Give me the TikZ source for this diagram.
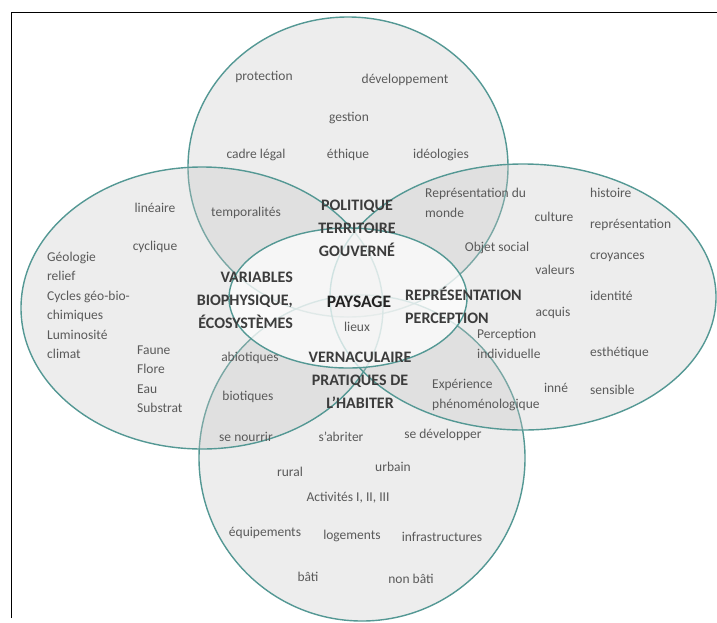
\documentclass[tikz,border=0pt]{standalone}
\usepackage{fontspec}
\setmainfont{Carlito}
\definecolor{vteal}{RGB}{84,152,148}
\definecolor{txtgray}{RGB}{90,90,90}
\definecolor{headgray}{RGB}{60,60,60}
\definecolor{paygray}{RGB}{35,35,35}
\tikzset{
  lbl/.style={font=\fontsize{13.5}{19.5}\selectfont, text=txtgray, inner sep=0pt},
  head/.style={font=\fontsize{16}{23}\selectfont\bfseries, text=headgray, inner sep=0pt},
  venn/.style={draw=vteal, line width=1.4pt, fill=black!22, fill opacity=0.33},
  core/.style={draw=vteal, line width=1.4pt, fill=white, fill opacity=0.72},
  frame/.style={draw=black, line width=1pt}
}
\begin{document}
\begin{tikzpicture}[x=1pt,y=-1pt]
\useasboundingbox (0,0) rectangle (717,622);
% frame
\coordinate (fa) at (11,618);
\coordinate (fb) at (11,12);
\coordinate (fc) at (717,12);
\draw[frame] (fa) -- (fb) -- (fc);
% ellipses
\path[venn] (348,167) ellipse [x radius=160, y radius=150];
\path[venn] (362,458) ellipse [x radius=163, y radius=163];
\path[venn] (202,308) ellipse [x radius=181, y radius=141];
\path[venn] (523,297) ellipse [x radius=193, y radius=133];
\path[core] (348,298) ellipse [x radius=119, y radius=70];
% top circle
\node[lbl] (t1) at (264,77) {protection};
\node[lbl] (t2) at (405,80) {développement};
\node[lbl] (t3) at (349,118) {gestion};
\node[lbl] (t4) at (256,155) {cadre légal};
\node[lbl] (t5) at (348,155) {éthique};
\node[lbl] (t6) at (441,155) {idéologies};
\node[head, align=center] (h1) at (357,228) {POLITIQUE\\TERRITOIRE\\GOUVERNÉ};
% left ellipse
\node[lbl] (l1) at (155,208) {linéaire};
\node[lbl] (l2) at (246,213) {temporalités};
\node[lbl] (l3) at (155,247) {cyclique};
\node[lbl, align=left, anchor=west] (l4) at (47,305.5) {Géologie\\relief\\Cycles géo-bio-\\chimiques\\Luminosité\\climat};
\node[lbl, align=left, anchor=west] (l5) at (137,379) {Faune\\Flore\\Eau\\Substrat};
\node[lbl] (l6) at (250,358) {abiotiques};
\node[lbl] (l7) at (248,397) {biotiques};
\node[lbl] (l8) at (246,437) {se nourrir};
\node[head, align=right, anchor=east] (h2) at (293,300) {VARIABLES\\BIOPHYSIQUE,\\ÉCOSYSTÈMES};
% right ellipse
\node[lbl, align=left, anchor=west] (r1) at (425,203) {Représentation du\\monde};
\node[lbl] (r2) at (554,217) {culture};
\node[lbl, anchor=west] (r3) at (590,193) {histoire};
\node[lbl, anchor=west] (r4) at (590,225) {représentation};
\node[lbl, anchor=west] (r5) at (590,257) {croyances};
\node[lbl, anchor=west] (r6) at (590,296) {identité};
\node[lbl, anchor=west] (r7) at (590,353) {esthétique};
\node[lbl, anchor=west] (r8) at (590,390) {sensible};
\node[lbl] (r9) at (497,248) {Objet social};
\node[lbl] (r10) at (555,270) {valeurs};
\node[lbl] (r11) at (553,313) {acquis};
\node[lbl, align=left, anchor=west] (r12) at (477,344) {Perception\\individuelle};
\node[lbl, align=left, anchor=west] (r13) at (432,395) {Expérience\\phénoménologique};
\node[lbl] (r14) at (556,388) {inné};
\node[head, align=left, anchor=west] (h3) at (405,305.5) {REPRÉSENTATION\\PERCEPTION};
% bottom circle
\node[head, align=center] (h4) at (360,380) {VERNACULAIRE\\PRATIQUES DE\\L’HABITER};
\node[lbl] (b1) at (341,437) {s’abriter};
\node[lbl] (b2) at (443,435) {se développer};
\node[lbl] (b3) at (290,472) {rural};
\node[lbl] (b4) at (393,467) {urbain};
\node[lbl] (b5) at (348,498) {Activités I, II, III};
\node[lbl] (b6) at (265,533) {équipements};
\node[lbl] (b7) at (352,536) {logements};
\node[lbl] (b8) at (442,537) {infrastructures};
\node[lbl] (b9) at (308,577) {bâti};
\node[lbl] (b10) at (411,579) {non bâti};
% centre
\node[head, font=\fontsize{17.5}{21}\selectfont\bfseries, text=paygray] (c0) at (359,302) {PAYSAGE};
\node[lbl] (c1) at (357,327) {lieux};
\end{tikzpicture}
\end{document}
